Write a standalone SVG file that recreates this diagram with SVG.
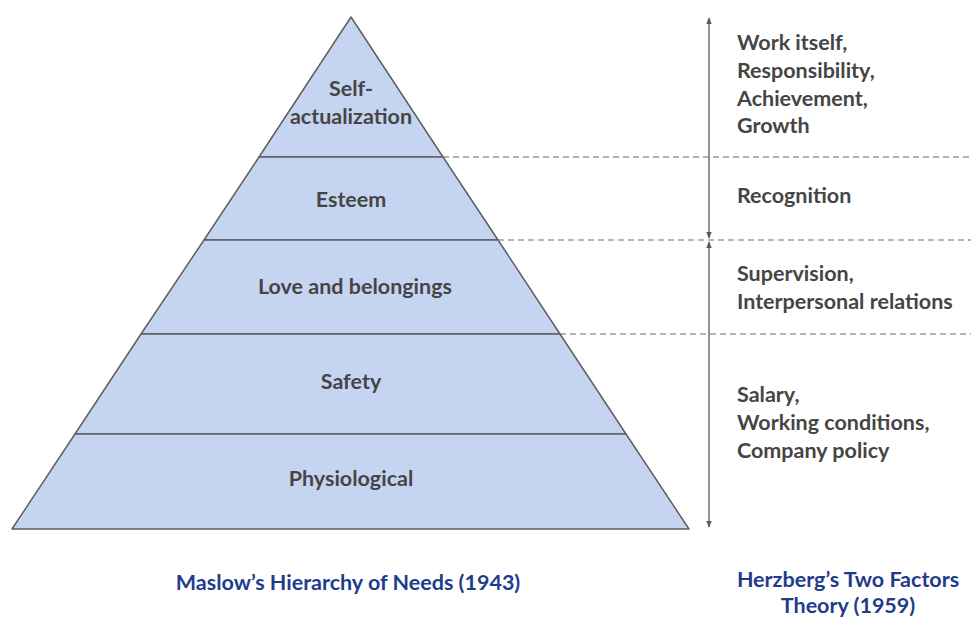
<svg xmlns="http://www.w3.org/2000/svg" width="971" height="617" viewBox="0 0 971 617">
<style>
.layer{fill:#c5d5f1;stroke:#5f5f5f;stroke-width:1.5;stroke-linejoin:round}
.t{font-family:Lato,"Open Sans","Liberation Sans",sans-serif;font-weight:bold;font-size:21.5px;fill:#454545}
.c{text-anchor:middle}
.title{font-family:Lato,"Open Sans","Liberation Sans",sans-serif;font-weight:bold;font-size:21.5px;fill:#1f3c8c;text-anchor:middle}
.dash{stroke:#6a6a6a;stroke-width:1.2;stroke-dasharray:6 4;fill:none}
.arr{stroke:#5a5a5a;stroke-width:1.3;fill:none}
</style>
<defs>
<marker id="ah" viewBox="0 0 10 10" refX="9" refY="5" markerWidth="7" markerHeight="7" orient="auto-start-reverse" markerUnits="userSpaceOnUse">
<path d="M0,1 L10,5 L0,9 z" fill="#5a5a5a"/>
</marker>
</defs>
<g id="pyramid">
<g id="self-actualization">
<polygon class="layer" points="351,17 443,157 259,157"/>
<text class="t c" x="351" y="96">Self-</text>
<text class="t c" x="351" y="124">actualization</text>
</g>
<g id="esteem">
<polygon class="layer" points="259,157 443,157 498,240 204,240"/>
<text class="t c" x="351" y="207">Esteem</text>
</g>
<g id="love">
<polygon class="layer" points="204,240 498,240 560,334 141,334"/>
<text class="t c" x="355" y="294">Love and belongings</text>
</g>
<g id="safety">
<polygon class="layer" points="141,334 560,334 626,434 75,434"/>
<text class="t c" x="351" y="389">Safety</text>
</g>
<g id="physiological">
<polygon class="layer" points="75,434 626,434 689,529 12,529"/>
<text class="t c" x="351" y="486">Physiological</text>
</g>
</g>
<g id="connectors">
<line class="dash" x1="443" y1="157" x2="971" y2="157"/>
<line class="dash" x1="498" y1="240" x2="971" y2="240"/>
<line class="dash" x1="560" y1="334" x2="971" y2="334"/>
<line class="arr" x1="709" y1="18" x2="709" y2="238" marker-start="url(#ah)" marker-end="url(#ah)"/>
<line class="arr" x1="709" y1="242" x2="709" y2="527" marker-start="url(#ah)" marker-end="url(#ah)"/>
</g>
<g id="motivators">
<text class="t" x="737" y="50">Work itself,</text>
<text class="t" x="737" y="78">Responsibility,</text>
<text class="t" x="737" y="106">Achievement,</text>
<text class="t" x="737" y="133">Growth</text>
<text class="t" x="737" y="203">Recognition</text>
</g>
<g id="hygiene">
<text class="t" x="737" y="281">Supervision,</text>
<text class="t" x="737" y="309">Interpersonal relations</text>
<text class="t" x="737" y="402">Salary,</text>
<text class="t" x="737" y="430">Working conditions,</text>
<text class="t" x="737" y="458">Company policy</text>
</g>
<g id="titles">
<text class="title" x="348" y="590">Maslow’s Hierarchy of Needs (1943)</text>
<text class="title" x="848" y="587">Herzberg’s Two Factors</text>
<text class="title" x="848" y="613">Theory (1959)</text>
</g>
</svg>
